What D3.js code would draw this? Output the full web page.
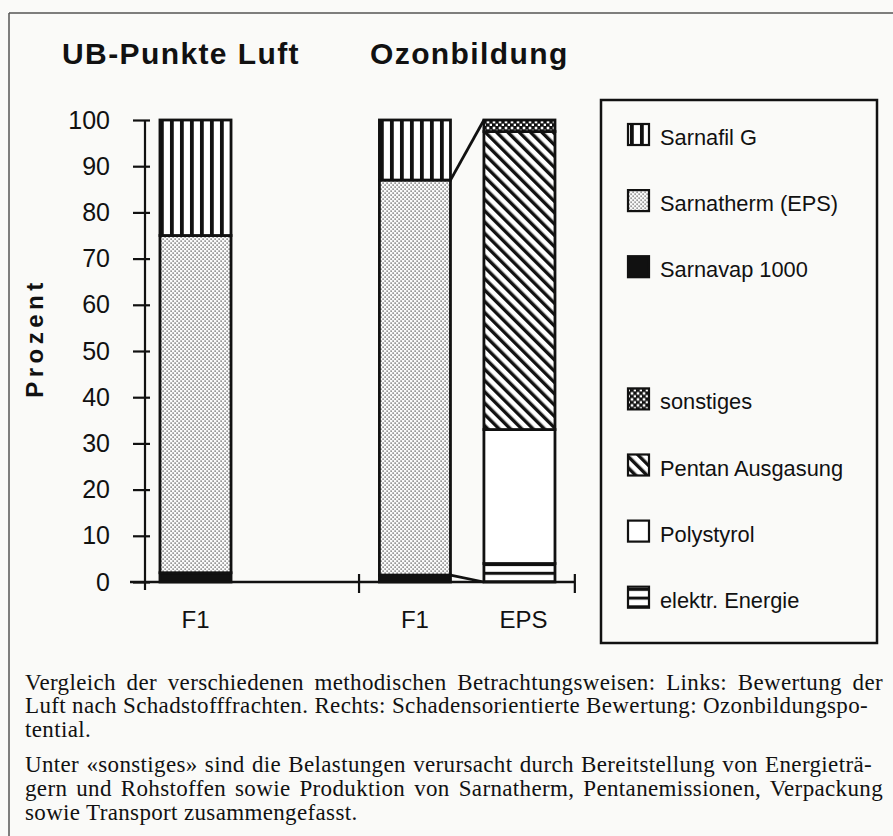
<!DOCTYPE html>
<html>
<head>
<meta charset="utf-8">
<script src="https://cdn.jsdelivr.net/npm/d3@7"></script>
<style>
  body { margin: 0; background: #fafaf8; }
  svg { display: block; }
</style>
</head>
<body>
<svg id="chart" width="893" height="836"></svg>
<script>
// values (percent of each bar)
var barLabels = ["F1", "F1", "EPS"];
var barSlot = [0, 2.1, 3.1];          // where each bar sits along the x axis, in bar slots
var panelTitles = ["UB-Punkte Luft", "Ozonbildung"];
var sarnavap = [2, 1.5, 0];
var sarnatherm = [73, 85.5, 0];
var sarnafil = [25, 13, 0];
var elektr = [0, 0, 4];
var polystyrol = [0, 0, 29];
var pentan = [0, 0, 64.5];
var sonstiges = [0, 0, 2.5];
var yTicks = [0, 10, 20, 30, 40, 50, 60, 70, 80, 90, 100];
var legendLabels = ["Sarnafil G", "Sarnatherm (EPS)", "Sarnavap 1000", null,
                    "sonstiges", "Pentan Ausgasung", "Polystyrol", "elektr. Energie"];
var captionLines = [
  ["Vergleich der verschiedenen methodischen Betrachtungsweisen: Links: Bewertung der", 883],
  ["Luft nach Schadstofffrachten. Rechts: Schadensorientierte Bewertung: Ozonbildungspo-", 868],
  ["tential.", 0],
  ["Unter «sonstiges» sind die Belastungen verursacht durch Bereitstellung von Energieträ-", 872],
  ["gern und Rohstoffen sowie Produktion von Sarnatherm, Pentanemissionen, Verpackung", 883],
  ["sowie Transport zusammengefasst.", 0]
];

var keys = ["Sarnavap 1000", "elektr. Energie", "Polystyrol", "Sarnatherm (EPS)",
            "Pentan Ausgasung", "Sarnafil G", "sonstiges"];
var rows = barLabels.map(function(l, i) {
  return {
    "label": l, "slot": barSlot[i],
    "Sarnavap 1000": sarnavap[i], "elektr. Energie": elektr[i], "Polystyrol": polystyrol[i],
    "Sarnatherm (EPS)": sarnatherm[i], "Pentan Ausgasung": pentan[i],
    "Sarnafil G": sarnafil[i], "sonstiges": sonstiges[i]
  };
});

var svg = d3.select("#chart");
var ink = "#111";

var x = d3.scaleLinear().domain([0, 1]).range([195.5, 300]);
var y = d3.scaleLinear().domain([0, 100]).range([582, 120]);
var barW = x(0.68) - x(0);

// patterns
var defs = svg.append("defs");
var p = defs.append("pattern").attr("id", "vstripe").attr("patternUnits", "userSpaceOnUse")
  .attr("width", 10).attr("height", 10).attr("x", x(0) - barW / 2);
p.append("rect").attr("width", 10).attr("height", 10).attr("fill", "#fff");
p.append("rect").attr("width", 3.8).attr("height", 10).attr("fill", ink);

p = defs.append("pattern").attr("id", "dots").attr("patternUnits", "userSpaceOnUse")
  .attr("width", 4).attr("height", 4);
p.append("rect").attr("width", 4).attr("height", 4).attr("fill", "#fbfbfb");
p.append("rect").attr("x", 0.5).attr("y", 0.5).attr("width", 1.2).attr("height", 1.2).attr("fill", "#333");
p.append("rect").attr("x", 2.5).attr("y", 2.5).attr("width", 1.2).attr("height", 1.2).attr("fill", "#333");

p = defs.append("pattern").attr("id", "diag").attr("patternUnits", "userSpaceOnUse")
  .attr("width", 8).attr("height", 8).attr("patternTransform", "rotate(-45)");
p.append("rect").attr("width", 8).attr("height", 8).attr("fill", "#fff");
p.append("rect").attr("width", 3.4).attr("height", 8).attr("fill", ink);

p = defs.append("pattern").attr("id", "hstripe").attr("patternUnits", "userSpaceOnUse")
  .attr("width", 10).attr("height", 8.7).attr("y", y(0) - 1.5);
p.append("rect").attr("width", 10).attr("height", 8.7).attr("fill", "#fff");
p.append("rect").attr("width", 10).attr("height", 3).attr("fill", ink);

p = defs.append("pattern").attr("id", "checks").attr("patternUnits", "userSpaceOnUse")
  .attr("width", 6).attr("height", 6);
p.append("rect").attr("width", 6).attr("height", 6).attr("fill", ink);
p.append("rect").attr("x", 0.7).attr("y", 0.7).attr("width", 2.6).attr("height", 2.6).attr("fill", "#fff");
p.append("rect").attr("x", 3.7).attr("y", 3.7).attr("width", 2.6).attr("height", 2.6).attr("fill", "#fff");

var fills = {
  "Sarnafil G": "url(#vstripe)",
  "Sarnatherm (EPS)": "url(#dots)",
  "Sarnavap 1000": ink,
  "sonstiges": "url(#checks)",
  "Pentan Ausgasung": "url(#diag)",
  "Polystyrol": "#fff",
  "elektr. Energie": "url(#hstripe)"
};

// outer frame (top and left edge of the scanned box)
svg.append("line").attr("x1", 9).attr("x2", 893).attr("y1", 13).attr("y2", 13)
  .attr("stroke", "#555").attr("stroke-width", 1.5);
svg.append("line").attr("x1", 9).attr("x2", 9).attr("y1", 13).attr("y2", 836)
  .attr("stroke", "#555").attr("stroke-width", 1.5);

// titles
svg.selectAll(".title").data(panelTitles).enter().append("text")
  .attr("class", "title")
  .attr("x", function(d, i) { return i == 0 ? 62 : 370; })
  .attr("y", 64)
  .attr("font-family", "Liberation Sans, Arial, sans-serif")
  .attr("font-weight", "bold").attr("font-size", 30).attr("letter-spacing", 1.4)
  .attr("fill", ink)
  .text(function(d) { return d; });

// stacked bars
var series = d3.stack().keys(keys)(rows);
svg.append("g").selectAll("g").data(series).enter().append("g")
  .attr("fill", function(s) { return fills[s.key]; })
  .selectAll("rect")
  .data(function(s) { return s.filter(function(d) { return d[1] - d[0] > 0; }); })
  .enter().append("rect")
    .attr("x", function(d) { return x(d.data.slot) - barW / 2; })
    .attr("y", function(d) { return y(d[1]); })
    .attr("width", barW)
    .attr("height", function(d) { return y(d[0]) - y(d[1]); })
    .attr("stroke", ink).attr("stroke-width", 2.8);

// connector lines from the Sarnatherm part of F1 to the EPS breakdown
var f1 = rows[1], eps = rows[2];
var conn = [
  [f1["Sarnavap 1000"] + f1["Sarnatherm (EPS)"], 100],
  [f1["Sarnavap 1000"], 0]
];
svg.append("g").selectAll("line").data(conn).enter().append("line")
  .attr("x1", x(f1.slot) + barW / 2).attr("x2", x(eps.slot) - barW / 2)
  .attr("y1", function(d) { return y(d[0]); })
  .attr("y2", function(d) { return y(d[1]); })
  .attr("stroke", ink).attr("stroke-width", 2.8);

// y axis
var axisX = 145;
var yAxis = svg.append("g").attr("transform", "translate(" + axisX + ",0)")
  .call(d3.axisLeft(y).tickValues(yTicks).tickSize(12).tickPadding(23).tickSizeOuter(0));
yAxis.select(".domain").remove();
yAxis.selectAll(".tick line").attr("x1", 5).attr("stroke", ink).attr("stroke-width", 2.2);
yAxis.selectAll(".tick text")
  .attr("font-family", "Liberation Sans, Arial, sans-serif").attr("font-size", 25)
  .attr("fill", ink);
svg.append("line").attr("x1", axisX).attr("x2", axisX).attr("y1", y(100)).attr("y2", y(0) + 8)
  .attr("stroke", ink).attr("stroke-width", 2.2);

// x baseline with panel separators
var sepSlots = [1.565, 3.63];
svg.append("line").attr("x1", axisX - 15).attr("x2", x(sepSlots[1]))
  .attr("y1", y(0)).attr("y2", y(0)).attr("stroke", ink).attr("stroke-width", 2.6);
svg.append("g").selectAll("line").data(sepSlots).enter().append("line")
  .attr("x1", function(d) { return x(d); }).attr("x2", function(d) { return x(d); })
  .attr("y1", y(0) - 8).attr("y2", y(0) + 11)
  .attr("stroke", ink).attr("stroke-width", 2.2);

svg.append("g").selectAll("text").data(rows).enter().append("text")
  .attr("x", function(d) { return x(d.slot) + (d.label == "EPS" ? 4 : 0); })
  .attr("y", 628)
  .attr("text-anchor", "middle")
  .attr("font-family", "Liberation Sans, Arial, sans-serif").attr("font-size", 24)
  .attr("fill", ink)
  .text(function(d) { return d.label; });

svg.append("text")
  .attr("transform", "translate(43," + (y(50) - 13) + ") rotate(-90)")
  .attr("text-anchor", "middle")
  .attr("font-family", "Liberation Sans, Arial, sans-serif")
  .attr("font-weight", "bold").attr("font-size", 24).attr("letter-spacing", 4.5)
  .attr("fill", ink)
  .text("Prozent");

// legend
svg.append("rect").attr("x", 601).attr("y", 100).attr("width", 276).attr("height", 543)
  .attr("fill", "none").attr("stroke", ink).attr("stroke-width", 2.5);
var ly = d3.scaleLinear().domain([0, 1]).range([145, 211.1]);
var items = legendLabels.map(function(l, i) { return {label: l, row: i}; })
  .filter(function(d) { return d.label; });
var li = svg.append("g").selectAll("g").data(items).enter().append("g")
  .attr("transform", function(d) { return "translate(0," + ly(d.row) + ")"; });
li.append("rect")
  .attr("x", 628).attr("y", -21).attr("width", 21).attr("height", 21)
  .attr("fill", function(d) { return fills[d.label]; })
  .attr("stroke", ink).attr("stroke-width", 2.2);
li.append("text")
  .attr("x", 660).attr("y", 0)
  .attr("font-family", "Liberation Sans, Arial, sans-serif").attr("font-size", 21.8)
  .attr("fill", ink)
  .text(function(d) { return d.label; });

// caption, justified lines get extra word spacing
var capY = [690, 713, 737, 772, 796, 820];
var cap = svg.append("g").selectAll("text").data(captionLines).enter().append("text")
  .attr("x", 25)
  .attr("y", function(d, i) { return capY[i]; })
  .attr("font-family", "Liberation Serif, Times New Roman, serif").attr("font-size", 23)
  .attr("letter-spacing", 0.35)
  .attr("fill", ink)
  .text(function(d) { return d[0]; });
cap.each(function(d) {
  if (!d[1]) return;
  var w = this.getComputedTextLength();
  var gaps = d[0].split(" ").length - 1;
  d3.select(this).attr("word-spacing", ((d[1] - 25) - w) / gaps);
});
</script>
</body>
</html>
